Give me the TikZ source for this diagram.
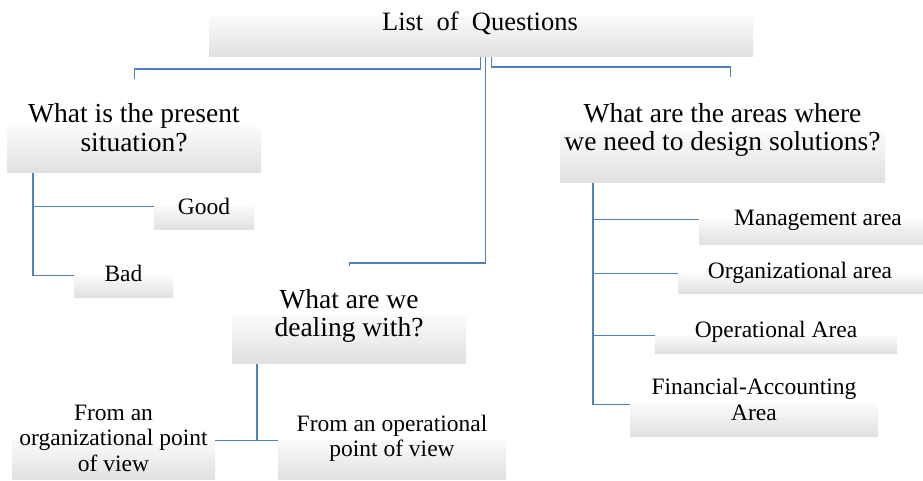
\documentclass[tikz,border=0pt]{standalone}
\usepackage{fontspec}
\setmainfont{Liberation Serif}
\definecolor{boxtop}{RGB}{250,250,250}
\definecolor{boxgray}{RGB}{224,224,224}
\definecolor{linkblue}{RGB}{79,129,189}
\begin{document}
\begin{tikzpicture}[x=1pt,y=-1pt,
  box/.style={rectangle, draw=none, inner sep=0pt, anchor=south west,
    top color=boxtop, bottom color=boxgray},
  bigtxt/.style={inner sep=0pt, align=center, font=\fontsize{27.5}{28.5}\selectfont},
  smalltxt/.style={inner sep=0pt, align=center, font=\fontsize{23.5}{25.5}\selectfont},
  conn/.style={draw=linkblue, line width=1.2pt}]
\useasboundingbox (0,0) rectangle (923,481);
% boxes: (left,bottom), width, height
\node[box, minimum width=544pt, minimum height=40pt] (top) at (209,57) {};
\node[box, minimum width=254pt, minimum height=45pt] (pres) at (7,173) {};
\node[box, minimum width=100pt, minimum height=23pt] (good) at (154,230) {};
\node[box, minimum width=99pt, minimum height=22pt] (bad) at (74,298) {};
\node[box, minimum width=234pt, minimum height=47pt] (deal) at (232,364) {};
\node[box, minimum width=203pt, minimum height=39pt] (orgview) at (12,480) {};
\node[box, minimum width=228pt, minimum height=39pt] (opview) at (278,480) {};
\node[box, minimum width=325pt, minimum height=50pt] (areas) at (560,183) {};
\node[box, minimum width=224pt, minimum height=25pt] (mgmt) at (699,245) {};
\node[box, minimum width=245pt, minimum height=20pt] (orgarea) at (678,294) {};
\node[box, minimum width=242pt, minimum height=18pt] (oparea) at (655,354) {};
\node[box, minimum width=248pt, minimum height=32pt] (fin) at (630,437) {};
% texts
\node[bigtxt, font=\fontsize{26.5}{28}\selectfont] (topT) at (480,23) {List\ \ of\ \ Questions};
\node[bigtxt] (presT) at (134,127.5) {What is the present\\situation?};
\node[bigtxt] (dealT) at (349,316) {What are we\\dealing with?};
\node[bigtxt] (areasT) at (722.5,130) {What are the areas where\\we need to design solutions?};
\node[smalltxt] (goodT) at (204,206) {Good};
\node[smalltxt] (badT) at (123.5,273) {Bad};
\node[smalltxt] (orgviewT) at (113.5,438) {From an\\organizational point\\of view};
\node[smalltxt] (opviewT) at (392,438.5) {From an operational\\point of view};
\node[smalltxt] (mgmtT) at (818,220) {Management area};
\node[smalltxt] (orgareaT) at (800,273) {Organizational area};
\node[smalltxt] (opareaT) at (776,332) {Operational Area};
\node[smalltxt] (finT) at (754,399.5) {Financial-Accounting\\Area};
% connectors
\draw[conn] ([xshift=-0.5pt]top.south) -- ++(0,12) -| ([yshift=49pt]pres.north);
\draw[conn] ([xshift=4pt]top.south) -- ++(0,206) -| ([yshift=51pt]deal.north);
\draw[conn] ([xshift=10pt]top.south) -- ++(0,10) -| ([xshift=8pt,yshift=56pt]areas.north);
\draw[conn] ([xshift=26pt]pres.south west) |- (good.north west);
\draw[conn] ([xshift=26pt]pres.south west) |- (bad.north west);
\draw[conn] ([xshift=25pt]deal.south west) |- (orgview.north east);
\draw[conn] ([xshift=25pt]deal.south west) |- (opview.north west);
\draw[conn] ([xshift=33pt]areas.south west) |- (mgmt.north west);
\draw[conn] ([xshift=33pt]areas.south west) |- (orgarea.north west);
\draw[conn] ([xshift=33pt]areas.south west) |- (oparea.north west);
\draw[conn] ([xshift=33pt]areas.south west) |- (fin.north west);
\end{tikzpicture}
\end{document}
